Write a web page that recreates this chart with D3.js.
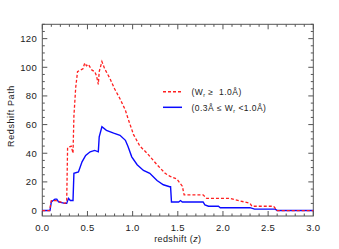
<!DOCTYPE html>
<html><head><meta charset="utf-8">
<script src="https://cdn.jsdelivr.net/npm/d3@7"></script>
<style>body{margin:0;background:#fff}text{font-family:"Liberation Sans",Arial,sans-serif;fill:#222;white-space:pre}</style>
</head><body><svg id="c" width="339" height="249"></svg>
<script>
const redZ = [0,0.08,0.1,0.15,0.2,0.25,0.27,0.28,0.32,0.34,0.35,0.37,0.39,0.42,0.45,0.47,0.49,0.51,0.53,0.55,0.58,0.60,0.62,0.63,0.66,0.69,0.75,0.80,0.86,0.92,0.95,1.01,1.08,1.16,1.27,1.36,1.41,1.49,1.55,1.57,1.78,1.82,2.08,2.30,2.32,2.56,2.60,3.0];
const redV = [0,0,7,7,6,5,6,44,45,40,66,86,97,98,99,103,101,102,100,98,97,94,88,97,104,99,92,85,78,70,64,53,45,40,32,26,24,22,17,11,11,8.5,8.5,5,3,3,0,0];
const blueZ = [0,0.085,0.1,0.12,0.14,0.16,0.18,0.25,0.27,0.29,0.31,0.34,0.35,0.40,0.44,0.48,0.53,0.58,0.62,0.63,0.66,0.71,0.79,0.86,0.92,0.95,0.99,1.05,1.12,1.19,1.27,1.34,1.41,1.42,1.43,1.51,1.53,1.55,1.78,1.80,1.84,1.95,1.97,2.30,2.35,2.58,2.60,3.0];
const blueV = [0,0,6,7,8,8,6,5,5,8.5,7,7,26,27,34,38.5,41,42,41,51.5,58.5,56,54,52.5,49,44.5,37.5,32,28,26,21,18,16.6,16.6,6,6,7,6,6,4,3,3,2,2,1,1,0,0];
const xTicks = [0,0.5,1.0,1.5,2.0,2.5,3.0];
const yTicks = [0,20,40,60,80,100,120];
const legendLabels = ["(W_r ≥  1.0Å)", "(0.3Å ≤ W_r <1.0Å)"];

const svg = d3.select("#c");
const L=42.3, R=313.3, T=24.3, B=216;
const x = d3.scaleLinear().domain([0,3]).range([L,R]);
const y = d3.scaleLinear().domain([-3.8,130]).range([B,T]);
const ax = "#555";

svg.append("rect").attr("x",L).attr("y",T).attr("width",R-L).attr("height",B-T)
  .attr("fill","none").attr("stroke",ax).attr("stroke-width",1);

const xMinor = d3.range(0,31).map(i=>i/10);
const yMinor = d3.range(0,131,5);
const g = svg.append("g").attr("stroke",ax).attr("stroke-width",1);
xMinor.forEach(v=>{
  const major = Math.abs(v*2-Math.round(v*2))<1e-6;
  const len = major?5:2.5;
  g.append("line").attr("x1",x(v)).attr("x2",x(v)).attr("y1",B).attr("y2",B-len);
  g.append("line").attr("x1",x(v)).attr("x2",x(v)).attr("y1",T).attr("y2",T+len);
});
yMinor.forEach(v=>{
  const major = v%20===0;
  const len = major?5:2.5;
  g.append("line").attr("x1",L).attr("x2",L+len).attr("y1",y(v)).attr("y2",y(v));
  g.append("line").attr("x1",R).attr("x2",R-len).attr("y1",y(v)).attr("y2",y(v));
});

svg.selectAll(".xt").data(xTicks).enter().append("text")
  .attr("x",d=>x(d)).attr("y",231).attr("text-anchor","middle").attr("font-size",9.5)
  .attr("letter-spacing",0.3).text(d=>d.toFixed(1));
svg.selectAll(".yt").data(yTicks).enter().append("text")
  .attr("x",37).attr("y",d=>y(d)+3.4).attr("text-anchor","end").attr("font-size",9.5)
  .attr("letter-spacing",0.3).text(d=>d);

svg.append("text").attr("x",(L+R)/2).attr("y",242).attr("text-anchor","middle").attr("font-size",9)
  .attr("letter-spacing",0.4)
  .html('redshift (<tspan font-style="italic">z</tspan>)');
svg.append("text").attr("transform","translate(14,116) rotate(-90)").attr("text-anchor","middle")
  .attr("font-size",9).attr("letter-spacing",0.6).text("Redshift Path");

const line = d3.line().x(d=>x(d[0])).y(d=>y(d[1]));
const redData = redZ.map((z,i)=>[z,redV[i]]);
const blueData = blueZ.map((z,i)=>[z,blueV[i]]);
svg.append("path").datum(blueData).attr("d",line).attr("fill","none")
  .attr("stroke","#0a0aff").attr("stroke-width",1.4);
svg.append("path").datum(redData).attr("d",line).attr("fill","none")
  .attr("stroke","#ff2020").attr("stroke-width",1.3).attr("stroke-dasharray","3,2");

const lg = [{c:"#ff2020",d:"3,2",y:91.7,t:legendLabels[0]},{c:"#0a0aff",d:null,y:107.3,t:legendLabels[1]}];
lg.forEach(l=>{
  const ln = svg.append("line").attr("x1",163).attr("x2",182).attr("y1",l.y).attr("y2",l.y)
    .attr("stroke",l.c).attr("stroke-width",1.5);
  if(l.d) ln.attr("stroke-dasharray",l.d);
  const parts = l.t.split("_r");
  const t = svg.append("text").attr("x",191.5).attr("y",l.y+3.3).attr("font-size",8.5)
    .attr("letter-spacing",0.45);
  t.append("tspan").text(parts[0]);
  t.append("tspan").attr("font-size",5.5).attr("dy",2).text("r");
  t.append("tspan").attr("dy",-2).text(parts[1]);
});
</script></body></html>
